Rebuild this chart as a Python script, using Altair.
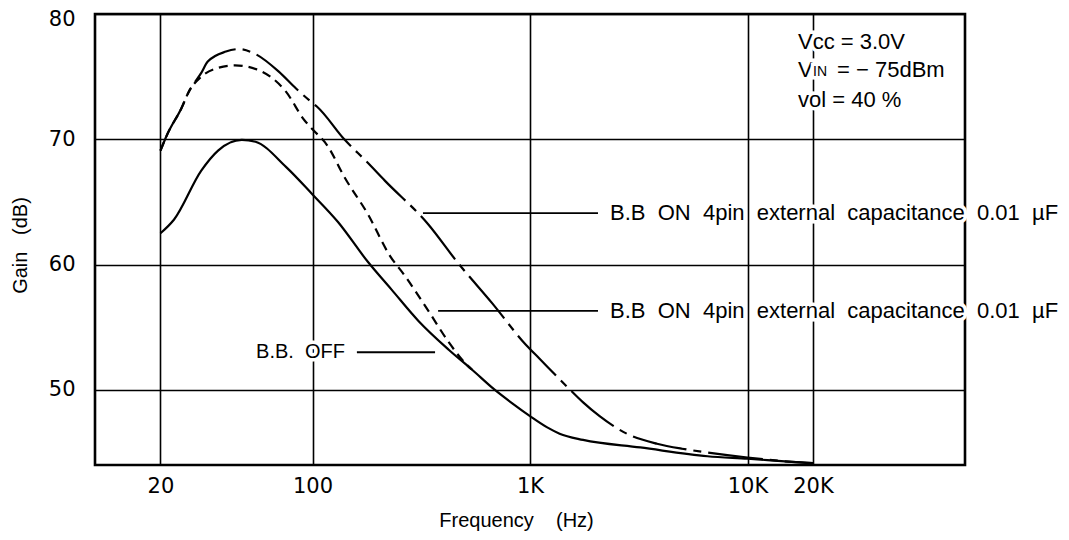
import altair as alt
import pandas as pd

# ---------------- data ----------------
# B.B. OFF (solid)
off_freq = [20, 23.1, 30.8, 36.8, 47.3, 54.7, 75.5, 100, 131, 180, 231, 307, 423, 542,
            683, 832, 1000, 1200, 1368, 1755, 3214, 6547, 10000, 16000, 20000]
off_gain = [62.5, 63.6, 67.5, 69.1, 69.95, 69.8, 67.8, 65.6, 63.4, 60.2, 58.0, 55.5, 53.2, 51.6,
            50.05, 48.9, 47.9, 47.0, 46.5, 46.0, 45.4, 44.7, 44.5, 44.25, 44.15]

# B.B ON (short dashes)
dash_freq = [20, 21.5, 25, 27, 30.8, 36.8, 44, 55, 75.5, 92, 100, 117, 140, 180, 227, 266,
             341, 423, 505, 542]
dash_gain = [69.1, 70.4, 72.5, 73.8, 75.0, 75.7, 75.9, 75.6, 73.8, 71.5, 70.8, 69.5, 67.0, 64.0,
             60.7, 59.1, 56.3, 53.8, 52.1, 51.6]

# B.B ON (long dashes)
up_freq = [20, 21.5, 25, 27, 30.8, 33, 40, 46, 54.7, 70, 84, 100, 105, 140, 180, 215, 341, 463,
           671, 957, 1104, 1520, 1755, 2090, 2785, 3837, 5000, 6547, 10000, 16000, 20000]
up_gain = [69.1, 70.4, 72.5, 73.8, 75.3, 76.2, 77.0, 77.2, 76.8, 75.4, 74.05, 72.9, 72.6, 70.0,
           68.1, 66.7, 63.2, 60.2, 56.9, 53.6, 52.5, 50.05, 49.0, 47.9, 46.5, 45.7, 45.3, 45.0,
           44.6, 44.25, 44.15]

# callout labels with leader lines
label_text = ["B.B\u00a0 ON\u00a0 4pin\u00a0 external\u00a0 capacitance\u00a0 0.01\u00a0 \u00b5F",
              "B.B\u00a0 ON\u00a0 4pin\u00a0 external\u00a0 capacitance\u00a0 0.01\u00a0 \u00b5F"]
label_gain = [64.1, 56.3]
leader_from = [322, 378]
leader_to = [2054, 2054]
label_freq = [2334, 2334]

off_text = ["B.B.\u00a0 OFF"]
off_text_freq = [141]
off_text_gain = [53.0]
off_leader_from = [160]
off_leader_to = [366]

cond_freq = 17070
cond_gain = [77.77, 75.53, 73.14]

x_ticks = [20, 100, 1000, 10000, 20000]
y_ticks = [50, 60, 70, 80]

# ---------------- chart ----------------
xs = alt.Scale(type="log", domain=[10, 100000], nice=False)
ys = alt.Scale(domain=[44, 80], nice=False, zero=False)

x_axis = alt.Axis(values=x_ticks,
                  labelExpr="datum.value >= 1000 ? (datum.value / 1000) + 'K' : '' + datum.value",
                  grid=True, gridColor="black", gridWidth=1.6, gridOpacity=1,
                  ticks=False, domain=False, labelOverlap=False, labelFlush=False,
                  labelFont="DejaVu Sans", labelFontSize=21, labelColor="black", labelPadding=10,
                  title="Frequency\u00a0\u00a0\u00a0\u00a0(Hz)", titleFont="Liberation Sans",
                  titleFontSize=20, titleFontWeight="normal", titleColor="black",
                  titleX=421, titleY=55, titleBaseline="middle")
y_axis = alt.Axis(values=y_ticks, grid=True, gridColor="black", gridWidth=1.6, gridOpacity=1,
                  ticks=False, domain=False, labelOverlap=False,
                  labelFont="DejaVu Sans", labelFontSize=21, labelColor="black", labelPadding=20,
                  labelOffset={"condition": {"test": "datum.value == 80", "value": 5.5}, "value": 0},
                  title="Gain\u00a0\u00a0\u00a0(dB)", titleFont="Liberation Sans",
                  titleFontSize=20, titleFontWeight="normal", titleColor="black",
                  titleX=-75, titleY=231, titleBaseline="middle")

X = lambda field: alt.X(field, scale=xs, axis=x_axis)
Y = lambda field: alt.Y(field, scale=ys, axis=y_axis)


def curve(freq, gain, dash=None):
    df = pd.DataFrame({"f": freq, "g": gain})
    kw = dict(color="black", strokeWidth=2.2, interpolate="monotone")
    if dash:
        kw["strokeDash"] = dash
    return alt.Chart(df).mark_line(**kw).encode(x=X("f:Q"), y=Y("g:Q"))


def label(texts, freqs, gains, size, align="left", dx=0, dy=0):
    df = pd.DataFrame({"t": texts, "f": freqs, "g": gains})
    enc = dict(x=X("f:Q"), y=Y("g:Q"), text="t:N")
    common = dict(font="Liberation Sans", fontSize=size, align=align, baseline="middle",
                  dx=dx, dy=dy)
    halo = alt.Chart(df).mark_text(color="white", stroke="white", strokeWidth=7,
                                   **common).encode(**enc)
    txt = alt.Chart(df).mark_text(color="black", **common).encode(**enc)
    return halo + txt


def leader(f1, f2, gains):
    df = pd.DataFrame({"f1": f1, "f2": f2, "g": gains})
    return alt.Chart(df).mark_rule(color="black", strokeWidth=1.8).encode(
        x=X("f1:Q"), x2="f2:Q", y=Y("g:Q"))


layers = [
    curve(off_freq, off_gain),
    curve(dash_freq, dash_gain, dash=[9, 6]),
    curve(up_freq, up_gain, dash=[55, 7, 8, 7]),
    leader(leader_from, leader_to, label_gain),
    leader(off_leader_from, off_leader_to, off_text_gain),
    label(label_text, label_freq, label_gain, 22),
    label(off_text, off_text_freq, off_text_gain, 20, align="right"),
    label(["Vcc = 3.0V", "V", "vol = 40 %"], [cond_freq] * 3, cond_gain, 22),
    label(["= \u2212 75dBm"], [cond_freq], [cond_gain[1]], 22, dx=39),
    label(["IN"], [cond_freq], [cond_gain[1]], 14, dx=15, dy=2),
]

chart = alt.layer(*layers).properties(
    width=870, height=451,
    padding={"left": 87, "top": 6, "right": 95, "bottom": 67},
    autosize=alt.AutoSizeParams(type="none"),
    background="white",
).configure_view(stroke="black", strokeWidth=2.6)

chart.save("out.html", embed_options={"renderer": "svg", "actions": False})
